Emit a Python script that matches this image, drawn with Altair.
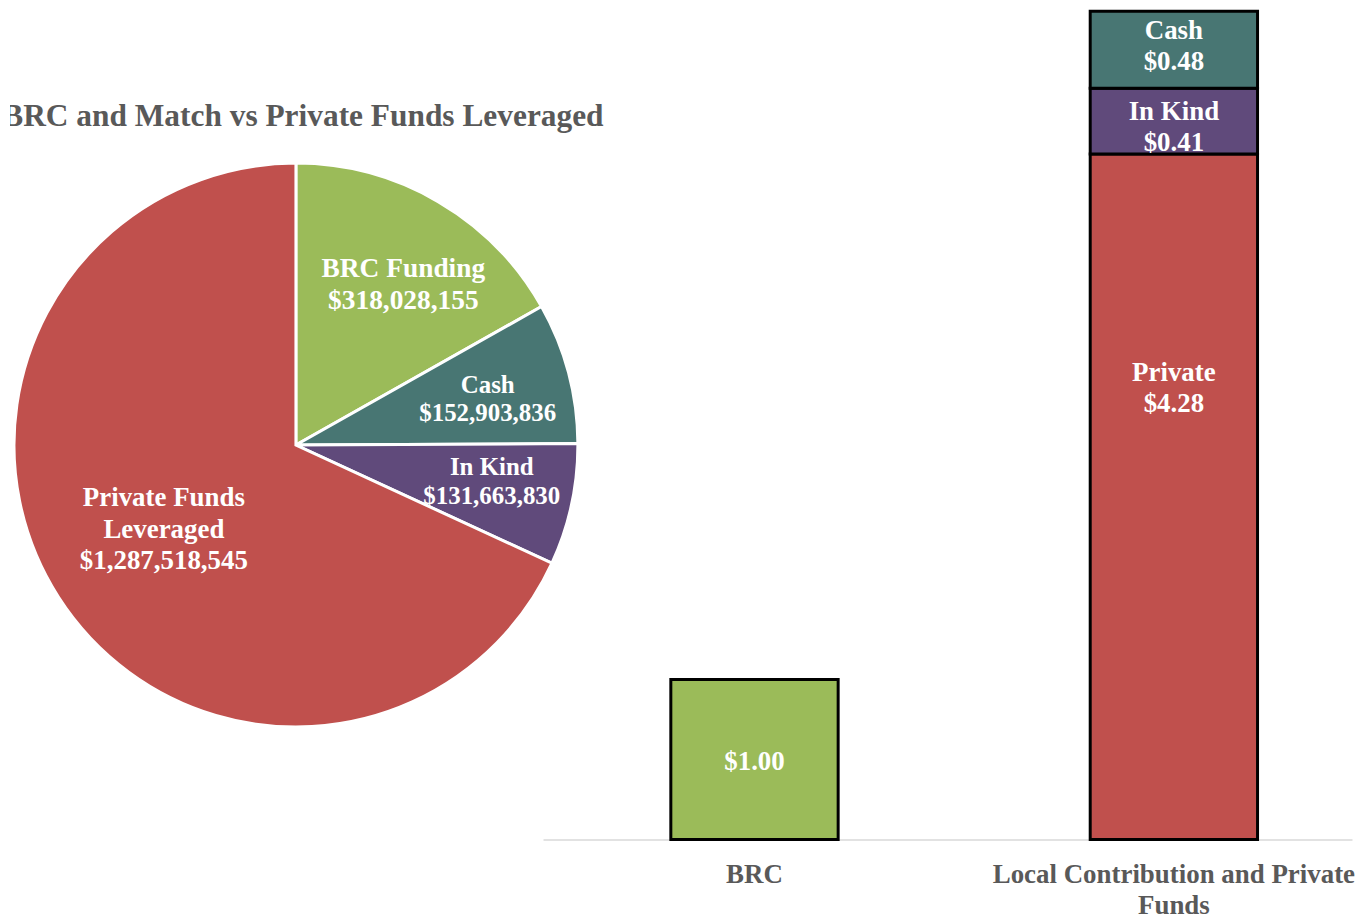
import altair as alt
import pandas as pd

# ---------------- data ----------------
title_text = "BRC and Match vs Private Funds Leveraged"

pie_cats = ["BRC Funding", "Cash", "In Kind", "Private Funds Leveraged"]
pie_names = ["BRC Funding", "Cash", "In Kind", "Private Funds\nLeveraged"]
pie_values = [318028155, 152903836, 131663830, 1287518545]
pie_colors = ["#9BBB59", "#487673", "#604A7B", "#C0504D"]

x_categories = ["BRC", "Local Contribution and Private Funds"]
bar_groups = ["BRC", "Local Contribution and Private Funds",
              "Local Contribution and Private Funds", "Local Contribution and Private Funds"]
bar_segments = ["BRC", "Private", "In Kind", "Cash"]
bar_values = [1.00, 4.28, 0.41, 0.48]
bar_colors = ["#9BBB59", "#C0504D", "#604A7B", "#487673"]

FONT = "Liberation Serif"
W, H = 1347, 833

# ---------------- pie part ----------------
pie_df = pd.DataFrame({
    "cat": pie_cats,
    "value": pie_values,
    "ord": list(range(len(pie_cats))),
    "label": [f"{n}\n${v:,}" for n, v in zip(pie_names, pie_values)],
})

CX, CY = 287, 437
pie_base = alt.Chart(pie_df).encode(
    theta=alt.Theta("value:Q", stack=True),
    order=alt.Order("ord:Q", sort="ascending"),
    x=alt.value(CX),
    y=alt.value(CY),
)

arcs = pie_base.mark_arc(radius=283, stroke="white", strokeWidth=3).encode(
    color=alt.Color("cat:N", scale=alt.Scale(domain=pie_cats, range=pie_colors), legend=None)
)


def pie_label(cat, r, size, lh, dx=0, dy=0):
    return pie_base.mark_text(
        radius=r, font=FONT, fontWeight="bold", fontSize=size, lineHeight=lh,
        color="white", lineBreak="\n", align="center", baseline="middle", dx=dx, dy=dy,
    ).encode(
        text=alt.condition(f"datum.cat == '{cat}'", alt.Text("label:N"), alt.value(""))
    )


title_layer = alt.Chart(alt.Data(values=[{"t": title_text}])).mark_text(
    font=FONT, fontWeight="bold", fontSize=31.5, color="#595959",
    align="center", baseline="alphabetic", clip=True,
).encode(text="t:N", x=alt.value(294), y=alt.value(117))

# ---------------- bar part ----------------
bar_df = pd.DataFrame({
    "group": bar_groups,
    "segment": bar_segments,
    "value": bar_values,
    "ord": list(range(len(bar_values))),
    "label": [(f"${v:.2f}" if s == "BRC" else f"{s}\n${v:.2f}") for s, v in zip(bar_segments, bar_values)],
})

label_expr = ("datum.value == 'Local Contribution and Private Funds' ? "
              "['Local Contribution and Private', 'Funds'] : datum.value")

x_scale = alt.Scale(domain=x_categories, range=[535, W], paddingInner=0.601,
                    paddingOuter=0.265, align=0.575)
x_enc = alt.X(
    "group:N", sort=x_categories, scale=x_scale,
    axis=alt.Axis(title=None, ticks=False, labelAngle=0, labelFont=FONT, labelFontSize=27,
                  labelFontWeight="bold", labelColor="#595959", labelLimit=0, labelPadding=22,
                  labelLineHeight=31, domainColor="#D9D9D9", domainWidth=1.5,
                  labelExpr=label_expr),
)
y_scale = alt.Scale(domain=[0, 5.18], nice=False, zero=True)

bar_base = alt.Chart(bar_df).transform_stack(
    stack="value", groupby=["group"], as_=["y0", "y1"],
    sort=[alt.SortField("ord", order="ascending")],
).transform_calculate(mid="(datum.y0 + datum.y1) / 2")

bars = bar_base.mark_bar(stroke="black", strokeWidth=3).encode(
    x=x_enc,
    y=alt.Y("y0:Q", scale=y_scale, axis=None),
    y2="y1:Q",
    color=alt.Color("segment:N", scale=alt.Scale(domain=bar_segments, range=bar_colors), legend=None),
)


def bar_label(seg, dy):
    return bar_base.transform_filter(f"datum.segment == '{seg}'").mark_text(
        font=FONT, fontWeight="bold", fontSize=27, lineHeight=31, color="white",
        lineBreak="\n", align="center", baseline="middle", dy=dy,
    ).encode(
        x=alt.X("group:N", sort=x_categories, scale=x_scale),
        y=alt.Y("mid:Q", scale=y_scale),
        text="label:N",
    )


chart = alt.layer(
    arcs,
    pie_label("BRC Funding", 190, 27.5, 32, dx=12, dy=-13),
    pie_label("Cash", 195, 25, 28, dx=4, dy=-10),
    pie_label("In Kind", 195, 25, 29, dx=6, dy=-19),
    pie_label("Private Funds Leveraged", 155, 27, 31.5, dx=-2, dy=-30),
    title_layer,
    bars,
    bar_label("BRC", 3),
    bar_label("Private", -124),
    bar_label("In Kind", -9),
    bar_label("Cash", -19),
).resolve_scale(color="independent").properties(
    width=W, height=H, padding=0, background="white"
).configure_view(strokeWidth=0)

chart.save("out.html", embed_options={"renderer": "svg", "actions": False})
